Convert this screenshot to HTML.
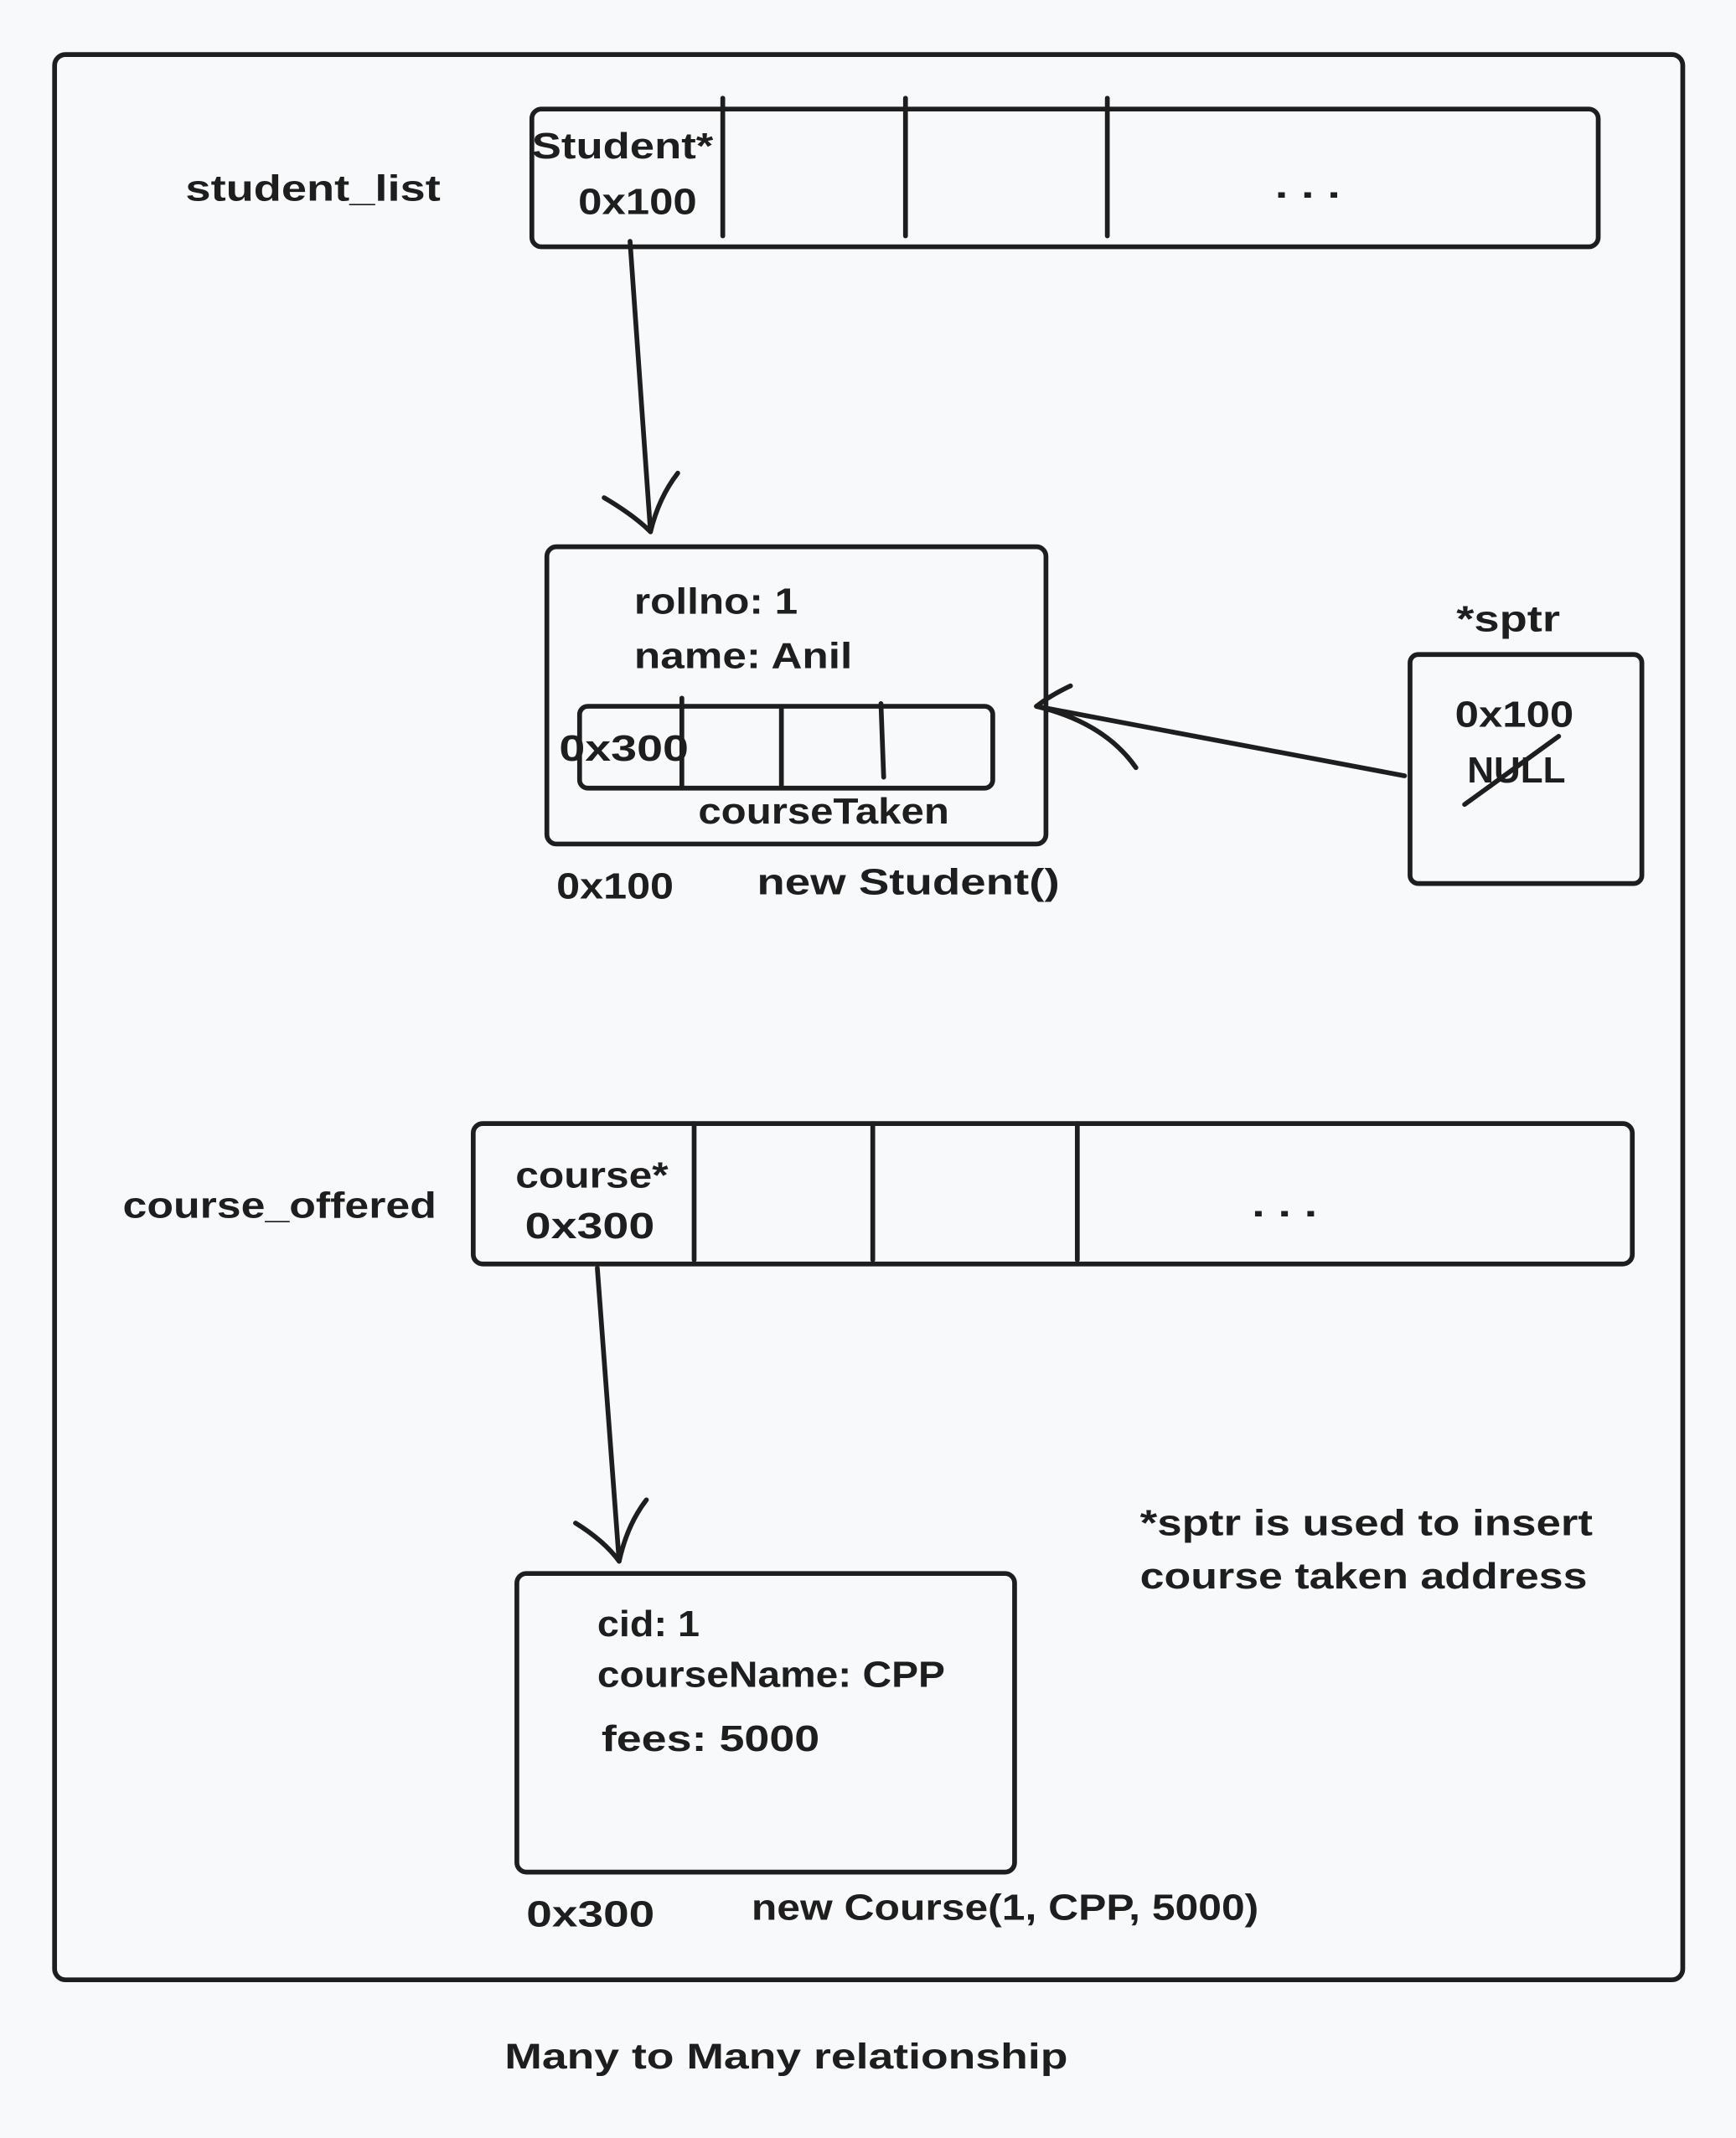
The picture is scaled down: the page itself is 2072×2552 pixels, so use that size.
<!DOCTYPE html>
<html><head><meta charset="utf-8"><style>
html,body{margin:0;padding:0;background:#f8f9fa;}
svg{display:block}
text{font-family:"Liberation Sans","DejaVu Sans",sans-serif;fill:#1e1e1e;font-size:27px;font-weight:bold;}
</style></head><body>
<svg width="2072" height="2552" viewBox="0 0 1273 1568" xmlns="http://www.w3.org/2000/svg">
<rect width="1273" height="1568" fill="#f8f9fa"/>
<g fill="none" stroke="#1e1e1e" stroke-width="3.5" stroke-linecap="round" stroke-linejoin="round">
<rect x="40" y="40" width="1194" height="1412" rx="8"/>
<rect x="390" y="80" width="782" height="101" rx="7"/>
<line x1="530" y1="72" x2="530" y2="173"/>
<line x1="664" y1="72" x2="664" y2="173"/>
<line x1="812" y1="72" x2="812" y2="173"/>
<line x1="462" y1="177" x2="477" y2="390"/>
<path d="M443 365 Q465 378 477 390 Q483 365 497 347"/>
<rect x="401" y="401" width="366" height="218" rx="7"/>
<rect x="425" y="518" width="303" height="60" rx="6"/>
<line x1="500" y1="512" x2="500" y2="578"/>
<line x1="573" y1="520" x2="573" y2="576"/>
<line x1="646" y1="516" x2="648" y2="570"/>
<rect x="1034" y="480" width="170" height="168" rx="6"/>
<line x1="1074" y1="590" x2="1143" y2="540"/>
<line x1="1030" y1="569" x2="760" y2="518"/>
<path d="M785 503 Q770 510 760 518 Q810 530 833 563"/>
<rect x="347" y="824" width="850" height="103" rx="7"/>
<line x1="509" y1="824" x2="509" y2="924"/>
<line x1="640" y1="824" x2="640" y2="924"/>
<line x1="790" y1="824" x2="790" y2="924"/>
<line x1="438" y1="930" x2="454" y2="1145"/>
<path d="M422 1117 Q443 1130 454 1145 Q460 1118 474 1100"/>
<rect x="379" y="1154" width="365" height="219" rx="7"/>
</g>
<g lengthAdjust="spacingAndGlyphs">
<text x="136" y="147" textLength="187" lengthAdjust="spacingAndGlyphs">student_list</text>
<text x="390" y="116" textLength="133" lengthAdjust="spacingAndGlyphs">Student*</text>
<text x="424" y="157" textLength="87" lengthAdjust="spacingAndGlyphs">0x100</text>
<text x="935" y="145" textLength="48" lengthAdjust="spacingAndGlyphs">. . .</text>
<text x="465" y="450" textLength="120" lengthAdjust="spacingAndGlyphs">rollno: 1</text>
<text x="465" y="490" textLength="160" lengthAdjust="spacingAndGlyphs">name: Anil</text>
<text x="410" y="558" textLength="95" lengthAdjust="spacingAndGlyphs">0x300</text>
<text x="512" y="604" textLength="184" lengthAdjust="spacingAndGlyphs">courseTaken</text>
<text x="408" y="659" textLength="86" lengthAdjust="spacingAndGlyphs">0x100</text>
<text x="555" y="656" textLength="222" lengthAdjust="spacingAndGlyphs">new Student()</text>
<text x="1068" y="463" textLength="76" lengthAdjust="spacingAndGlyphs">*sptr</text>
<text x="1067" y="533" textLength="87" lengthAdjust="spacingAndGlyphs">0x100</text>
<text x="1076" y="574" textLength="72" lengthAdjust="spacingAndGlyphs">NULL</text>
<text x="90" y="893" textLength="230" lengthAdjust="spacingAndGlyphs">course_offered</text>
<text x="378" y="871" textLength="112" lengthAdjust="spacingAndGlyphs">course*</text>
<text x="385" y="908" textLength="95" lengthAdjust="spacingAndGlyphs">0x300</text>
<text x="918" y="892" textLength="48" lengthAdjust="spacingAndGlyphs">. . .</text>
<text x="438" y="1200" textLength="75" lengthAdjust="spacingAndGlyphs">cid: 1</text>
<text x="438" y="1237" textLength="255" lengthAdjust="spacingAndGlyphs">courseName: CPP</text>
<text x="441" y="1284" textLength="160" lengthAdjust="spacingAndGlyphs">fees: 5000</text>
<text x="386" y="1413" textLength="94" lengthAdjust="spacingAndGlyphs">0x300</text>
<text x="551" y="1408" textLength="372" lengthAdjust="spacingAndGlyphs">new Course(1, CPP, 5000)</text>
<text x="836" y="1126" textLength="332" lengthAdjust="spacingAndGlyphs">*sptr is used to insert</text>
<text x="836" y="1165" textLength="328" lengthAdjust="spacingAndGlyphs">course taken address</text>
<text x="370" y="1517" textLength="413" lengthAdjust="spacingAndGlyphs" style="font-size:26px">Many to Many relationship</text>
</g>
</svg>
</body></html>
